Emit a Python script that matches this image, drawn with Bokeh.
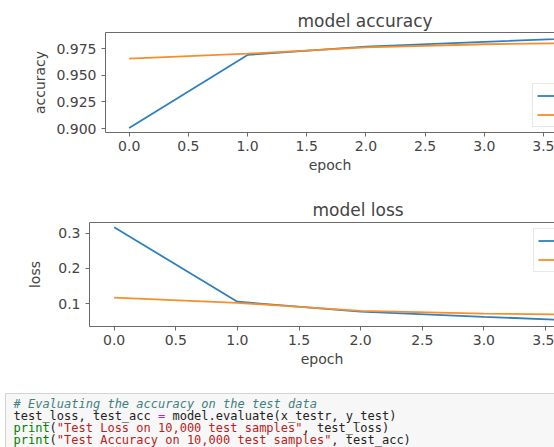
from bokeh.plotting import figure
from bokeh.layouts import column
from bokeh.models import (Range1d, FixedTicker, LinearAxis, Legend, LegendItem,
                          NumeralTickFormatter, ColumnDataSource)
from bokeh.core.properties import value
from bokeh.embed import file_html
from bokeh.resources import INLINE

# ---------------- data ----------------
epochs = [0, 1, 2, 3, 4]
acc_train = [0.9005, 0.9690, 0.9768, 0.9812, 0.9857]
acc_test = [0.9655, 0.9702, 0.9760, 0.9790, 0.9805]
loss_train = [0.318, 0.105, 0.077, 0.062, 0.048]
loss_test = [0.117, 0.102, 0.079, 0.071, 0.067]
series_labels = ["train", "test"]
x_ticks = [0.0, 0.5, 1.0, 1.5, 2.0, 2.5, 3.0, 3.5, 4.0]
acc_ticks = [0.900, 0.925, 0.950, 0.975]
loss_ticks = [0.1, 0.2, 0.3]
titles = ["model accuracy", "model loss"]
y_labels = ["accuracy", "loss"]
x_label = "epoch"
code_lines = [
    [("# Evaluating the accuracy on the test data", "#408080", "italic")],
    [("test_loss, test_acc ", "#222222", "normal"), ("=", "#AA22FF", "normal"),
     (" model.evaluate(x_testr, y_test)", "#222222", "normal")],
    [("print", "#008000", "normal"), ("(", "#222222", "normal"),
     ('"Test Loss on 10,000 test samples"', "#BA2121", "normal"),
     (", test_loss)", "#222222", "normal")],
    [("print", "#008000", "normal"), ("(", "#222222", "normal"),
     ('"Test Accuracy on 10,000 test samples"', "#BA2121", "normal"),
     (", test_acc)", "#222222", "normal")],
]

BLUE = "#2f80bf"
ORANGE = "#f98d2c"
TXT = "#444444"
AX = "#6a6a6a"
FONT = "DejaVu Sans"
W = 554


def style_axis(ax):
    ax.axis_line_color = AX
    ax.major_tick_line_color = AX
    ax.minor_tick_line_color = None
    ax.major_tick_out = 4
    ax.major_tick_in = 0
    ax.major_label_text_font = FONT
    ax.major_label_text_font_size = "14px"
    ax.major_label_text_color = TXT
    ax.axis_label_text_font = FONT
    ax.axis_label_text_font_size = "14px"
    ax.axis_label_text_font_style = "normal"
    ax.axis_label_text_color = TXT


def make_panel(height, border_top, border_left, border_bottom, xr, yr,
               yticks, yfmt, ytitle, title, title_offset, title_standoff,
               ylabel_standoff, ys, legend_loc):
    p = figure(width=W, height=height, output_backend="svg", toolbar_location=None,
               x_range=Range1d(*xr), y_range=Range1d(*yr),
               min_border_top=border_top, min_border_left=border_left,
               min_border_bottom=border_bottom, min_border_right=0,
               x_axis_location=None, y_axis_location=None)
    p.frame_align = False
    p.outline_line_color = None
    p.grid.visible = False
    p.background_fill_color = "white"
    p.border_fill_color = "white"

    # title sits over the centre of the full (partly hidden) axes
    p.title.text = title
    p.title.align = "left"
    p.title.offset = title_offset
    p.title.standoff = title_standoff
    p.title.text_font = FONT
    p.title.text_font_size = "17px"
    p.title.text_font_style = "normal"
    p.title.text_color = TXT

    xa = LinearAxis(ticker=FixedTicker(ticks=x_ticks),
                    formatter=NumeralTickFormatter(format="0.0"),
                    axis_label=x_label)
    style_axis(xa)
    xa.major_label_standoff = 4
    xa.axis_label_standoff = 3
    p.add_layout(xa, "below")

    ya = LinearAxis(ticker=FixedTicker(ticks=yticks),
                    formatter=NumeralTickFormatter(format=yfmt),
                    axis_label=ytitle)
    style_axis(ya)
    ya.major_label_standoff = 5
    ya.axis_label_standoff = ylabel_standoff
    p.add_layout(ya, "left")

    # top spine
    top = LinearAxis(ticker=FixedTicker(ticks=[]), axis_line_color=AX,
                     major_tick_line_color=None, minor_tick_line_color=None,
                     major_label_text_font_size="0px", major_label_standoff=0)
    p.add_layout(top, "above")

    r1 = p.line(epochs, ys[0], line_color=BLUE, line_width=1.8)
    r2 = p.line(epochs, ys[1], line_color=ORANGE, line_width=1.8)

    # legend labels (series_labels) fall outside the visible window in the
    # reference; only the legend frame and its line samples show.
    leg = Legend(items=[LegendItem(label="", renderers=[r1]),
                        LegendItem(label="", renderers=[r2])],
                 location=legend_loc, margin=0, padding=4, spacing=4,
                 glyph_width=28, glyph_height=15, label_height=15,
                 label_width=40, label_standoff=8,
                 label_text_font=FONT, label_text_font_size="13px",
                 label_text_color=TXT,
                 background_fill_color="white", background_fill_alpha=0.8,
                 border_line_color="#d2d2d2", border_line_width=1)
    p.add_layout(leg, "center")
    return p


p1 = make_panel(182, 32, 105, 50, (-0.2, 3.593), (0.8963, 0.9900),
                acc_ticks, "0.000", y_labels[0], titles[0], 192, 4, 5,
                (acc_train, acc_test), (427, 5))
p2 = make_panel(190, 40, 89, 46, (-0.2, 3.573), (0.0343, 0.3314),
                loss_ticks, "0.0", y_labels[1], titles[1], 223, 6, 12,
                (loss_train, loss_test), (444, 54))

# ---------------- code cell ----------------
p3 = figure(width=W, height=75, output_backend="svg", toolbar_location=None,
            x_range=Range1d(0, W), y_range=Range1d(447, 372),
            min_border=0, x_axis_location=None, y_axis_location=None)
p3.frame_align = False
p3.grid.visible = False
p3.outline_line_color = None
p3.background_fill_color = "white"
p3.border_fill_color = "white"
p3.quad(left=[5], right=[W + 5], top=[393], bottom=[452],
        fill_color="#f7f7f7", line_color="#d4d4d4", line_width=1)

FS = 12
CW = FS * 0.602
y0, dy = 403, 12
cx, cy, ct, cc, cs = [], [], [], [], []
for i, segs in enumerate(code_lines):
    col = 0
    for txt, colr, style in segs:
        lead = len(txt) - len(txt.lstrip(" "))
        cx.append(13 + (col + lead) * CW)
        cy.append(y0 + i * dy)
        ct.append(txt.strip(" "))
        cc.append(colr)
        cs.append(style)
        col += len(txt)
order = sorted(range(len(cx)), key=lambda k: -cy[k])
src = ColumnDataSource(dict(x=[cx[k] for k in order], y=[cy[k] for k in order],
                            t=[ct[k] for k in order], c=[cc[k] for k in order],
                            s=[cs[k] for k in order]))
p3.text(x="x", y="y", text="t", text_color="c", text_font_style="s", source=src,
        text_font=value("DejaVu Sans Mono"), text_font_size=f"{FS}px",
        text_baseline="middle", text_align="left")

layout = column(p1, p2, p3, spacing=0)
open("out.html", "w").write(file_html(layout, INLINE))
